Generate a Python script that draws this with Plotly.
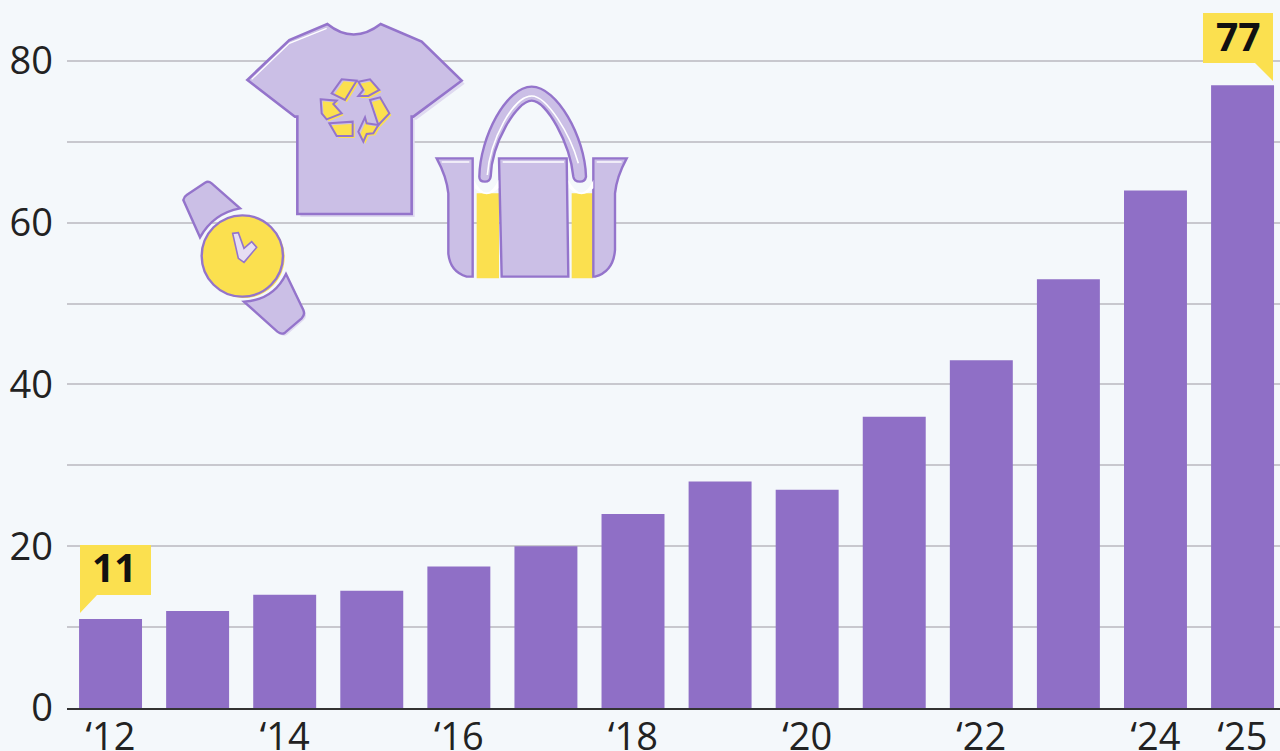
import re
import plotly.graph_objects as go

years = [2012, 2013, 2014, 2015, 2016, 2017, 2018, 2019, 2020, 2021, 2022, 2023, 2024, 2025]
values = [11, 12, 14, 14.5, 17.5, 20, 24, 28, 27, 36, 43, 53, 64, 77]
x_ticks = [2012, 2014, 2016, 2018, 2020, 2022, 2024, 2025]
x_labels = ["‘12", "‘14", "‘16", "‘18", "‘20", "‘22", "‘24", "‘25"]
y_ticks = [0, 10, 20, 30, 40, 50, 60, 70, 80]
y_labels = ["0", "", "20", "", "40", "", "60", "", "80"]

W, H = 1280, 751
ML, MB = 67, 43
PW, PH = W - ML, H - MB
BG = "#f4f8fb"
BAR = "#8f6fc6"
LAV = "#cbbfe6"
LINE = "#9474cb"
YEL = "#fbe04f"
SHADOW = "#dfdaf0"


def to_paper(path, ox=0.0, oy=0.0, s=1.0):
    nums = re.split(r"([MLCQZ])", path)
    out = []
    for tok in nums:
        vals = re.findall(r"-?\d+\.?\d*", tok)
        if not vals:
            out.append(tok.strip())
            continue
        pairs = []
        for a, b in zip(vals[::2], vals[1::2]):
            px = ox + float(a) * s
            py = oy + float(b) * s
            pairs.append(f"{(px - ML) / PW:.5f},{1 - py / PH:.5f}")
        out.append(" ".join(pairs))
    return " ".join(out)


shapes = []


def add(path, fill=None, line=None, width=0, ox=0.0, oy=0.0, s=1.0):
    shapes.append(dict(
        type="path", xref="paper", yref="paper", layer="above",
        path=to_paper(path, ox, oy, s),
        fillcolor=fill if fill else "rgba(0,0,0,0)",
        line=dict(color=line if line else "rgba(0,0,0,0)", width=width),
    ))


def circle(cx, cy, r):
    k = 0.5523 * r
    return (f"M{cx - r} {cy} C{cx - r} {cy - k} {cx - k} {cy - r} {cx} {cy - r} "
            f"C{cx + k} {cy - r} {cx + r} {cy - k} {cx + r} {cy} "
            f"C{cx + r} {cy + k} {cx + k} {cy + r} {cx} {cy + r} "
            f"C{cx - k} {cy + r} {cx - r} {cy + k} {cx - r} {cy} Z")


# callouts
add("M1203 13 L1273 13 L1273 81 L1255 63 L1203 63 Z", fill=YEL)
add("M80 545 L151 545 L151 595 L97 595 L80 613 Z", fill=YEL)

# --- t-shirt (crop coordinates, origin 170,10, scale 1/3)
z1 = dict(ox=170, oy=10, s=1 / 3)
shirt = ("M232 210 L358 90 L472 42 Q550 105 632 42 L755 95 L875 212 L730 320 "
         "L725 320 L725 612 L382 612 L382 320 L375 320 Z")
add(shirt, fill=SHADOW, ox=173, oy=13, s=1 / 3)
add(shirt, fill=LAV, line=LINE, width=2.6, **z1)
add("M245 208 L358 100 L470 55", line="#ffffff", width=1.2, **z1)
recycle = [
    "M485 250 L515 208 L560 212 L525 270 Z",
    "M565 215 L600 208 L628 240 L595 258 L565 258 L580 240 Z",
    "M600 270 L630 262 L658 310 L625 345 Z",
    "M565 365 L585 322 L590 340 L625 345 L610 370 L590 372 L580 395 Z",
    "M478 340 L548 335 L548 378 L500 378 Z",
    "M452 268 L500 272 L490 282 L515 310 L470 328 L455 310 Z",
]
for p in recycle:
    add(p, fill=YEL, ox=172, oy=12, s=1 / 3)
    add(p, line=LINE, width=2, **z1)

# --- watch
strap_top = "M40 570 Q42 560 50 555 L105 518 Q115 512 125 520 L210 595 Q130 610 90 682 Z"
strap_bot = "M348 792 L400 900 Q406 915 395 925 L345 968 Q335 975 322 965 L222 875 Q310 870 348 792 Z"
add(strap_bot, fill=SHADOW, ox=172, oy=12, s=1 / 3)
add(strap_top, fill=LAV, line=LINE, width=2.4, **z1)
add(strap_bot, fill=LAV, line=LINE, width=2.4, **z1)
add(circle(222, 742, 122), fill=YEL, **z1)
add(circle(217, 738, 122), fill=YEL, line=LINE, width=2.4, **z1)
add("M188 670 L205 668 L222 715 L245 695 L260 712 L222 757 L205 745 Z",
    fill="#e6def3", line=LINE, width=1.6, **z1)

# --- bag (crop coordinates, origin 430,80, scale 1/3)
z2 = dict(ox=430, oy=80, s=1 / 3)
add("M140 340 L207 340 L207 595 L140 595 Z", fill=YEL, **z2)
add("M425 340 L490 340 L490 595 L425 595 Z", fill=YEL, **z2)
add("M20 235 L128 235 L128 590 L110 590 Q60 575 55 520 L55 340 Q50 290 20 235 Z",
    fill=LAV, line=LINE, width=2.4, **z2)
add("M490 235 L590 235 Q560 290 555 340 L555 510 Q550 575 495 590 L490 590 Z",
    fill=LAV, line=LINE, width=2.4, **z2)
add("M207 235 L410 235 L415 590 L215 590 Z", fill=LAV, line=LINE, width=2.4, **z2)
add("M35 246 L118 246", line="#ffffff", width=1.4, **z2)
add("M500 246 L575 246", line="#ffffff", width=1.4, **z2)
add("M218 246 L402 246", line="#ffffff", width=1.4, **z2)
add("M132 300 Q170 375 205 300 L205 325 Q170 360 135 325 Z", fill="#ffffff", **z2)
add("M415 300 Q455 375 490 300 L490 325 Q455 360 418 325 Z", fill="#ffffff", **z2)
add("M148 290 C150 170 230 20 305 20 C380 20 465 170 468 290 Q465 305 450 305 "
    "Q432 305 430 290 C420 190 350 62 305 62 C260 62 185 190 182 290 "
    "Q180 305 165 305 Q148 305 148 290 Z", fill=LAV, line=LINE, width=2.4, **z2)
add("M172 285 C180 180 250 48 305 48 C350 48 420 160 445 250",
    line="#ffffff", width=1.6, **z2)

annotations = [
    dict(text="<b>11</b>", x=(114 - ML) / PW, y=1 - 566 / PH, xref="paper", yref="paper",
         showarrow=False, xanchor="center", yanchor="middle",
         font=dict(family="Open Sans", size=39, color="#111111")),
    dict(text="<b>77</b>", x=(1238 - ML) / PW, y=1 - 35 / PH, xref="paper", yref="paper",
         showarrow=False, xanchor="center", yanchor="middle",
         font=dict(family="Open Sans", size=39, color="#111111")),
]

fig = go.Figure(go.Bar(x=years, y=values, width=0.723, marker=dict(color=BAR, line=dict(width=0))))
fig.update_layout(
    width=W, height=H, autosize=False,
    margin=dict(l=ML, r=0, t=0, b=MB, pad=0),
    paper_bgcolor=BG, plot_bgcolor=BG,
    showlegend=False, shapes=shapes, annotations=annotations,
    font=dict(family="Open Sans", size=38, color="#222222"),
    xaxis=dict(range=[2011.5, 2025.43], tickmode="array", tickvals=x_ticks, ticktext=x_labels,
               automargin=False,
               showgrid=False, zeroline=False, showline=True, linecolor="#333333", linewidth=2,
               ticks="", ticklabelstandoff=-6, tickfont=dict(size=38, color="#222222"), fixedrange=True),
    yaxis=dict(range=[0, 87.54], tickmode="array", tickvals=y_ticks, ticktext=y_labels,
               automargin=False,
               showgrid=True, gridcolor="#c8c8ce", gridwidth=2, zeroline=False, showline=False,
               ticks="", ticklabelstandoff=13, tickfont=dict(size=38, color="#222222"), fixedrange=True),
)
fig.write_html(
    "out.html",
    config={"displayModeBar": False},
    post_script="document.body.style.margin='0';document.documentElement.style.overflow='hidden';window.dispatchEvent(new Event('resize'));",
)
